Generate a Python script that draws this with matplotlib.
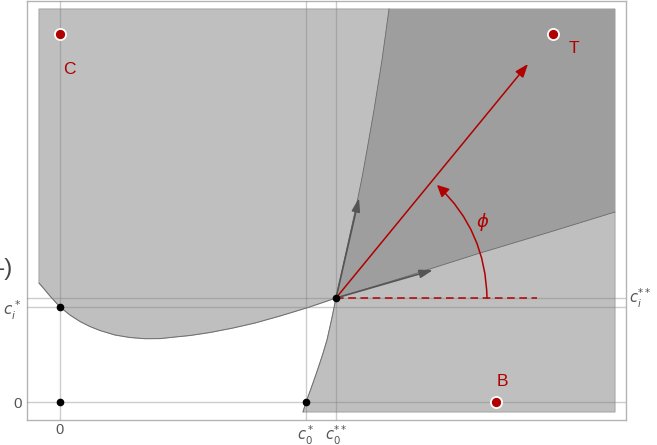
import numpy as np
import matplotlib
matplotlib.use('Agg')
import matplotlib.pyplot as plt
from matplotlib.patches import Polygon, FancyArrowPatch

plt.rcParams['font.family'] = ['Liberation Sans', 'DejaVu Sans']
plt.rcParams['mathtext.fontset'] = 'dejavusans'

# key values (schematic units)
c0_star, c0_ss = 2.46, 2.76
ci_star, ci_ss = 0.95, 1.04

# shaded box
box_x = [-0.21, 5.55]
box_y = [-0.10, 3.93]

# curve 1 (U-shaped, through the kink point and on to the right edge)
curve1_x = [-0.21, -0.15, -0.10, -0.05, 0.00, 0.10, 0.20, 0.30, 0.40, 0.55, 0.70, 0.85, 1.00,
            1.15, 1.30, 1.50, 1.73, 1.95, 2.20, 2.48, 2.76, 3.40, 4.17, 4.90, 5.55]
curve1_y = [1.19, 1.12, 1.06, 1.005, 0.95, 0.87, 0.805, 0.755, 0.715, 0.67, 0.645, 0.633, 0.634,
            0.65, 0.665, 0.695, 0.74, 0.79, 0.86, 0.945, 1.04, 1.235, 1.48, 1.70, 1.90]

# curve 2 (steep, through (c0*,0) and the kink point)
curve2_x = [2.43, 2.46, 2.505, 2.565, 2.625, 2.67, 2.715, 2.76, 2.81, 2.865, 2.92, 2.975,
            3.025, 3.07, 3.14, 3.22, 3.29]
curve2_y = [-0.10, 0.00, 0.12, 0.29, 0.47, 0.62, 0.82, 1.04, 1.27, 1.52, 1.77, 2.02,
            2.27, 2.52, 2.92, 3.42, 3.93]

# labelled points
pts_name = ['C', 'T', 'B']
pts_x = [0.0, 4.93, 4.36]
pts_y = [3.68, 3.68, 0.0]
lab_x = [0.095, 5.135, 4.425]
lab_y = [3.32, 3.53, 0.20]

# black dots
dots_x = [0.0, 0.0, c0_star, c0_ss]
dots_y = [ci_star, 0.0, 0.0, ci_ss]

# arrows from the kink
red_tip = (4.68, 3.38)
grey_tips = [(2.99, 2.04), (3.73, 1.32)]
dash_end = 4.77

red = '#b00000'
light = '#bfbfbf'
dark = '#9e9e9e'

fig = plt.figure(figsize=(6.57, 4.45), dpi=100)
ax = fig.add_axes([27/657, 25/445, 599/657, 419/445])
ax.set_xlim(-0.33, 5.66)
ax.set_ylim(-0.18, 4.01)

c1 = np.column_stack([curve1_x, curve1_y])
c2 = np.column_stack([curve2_x, curve2_y])
k1 = curve1_x.index(c0_ss)
k2 = curve2_x.index(c0_ss)

# light grey region: box minus lower-left corner
light_poly = np.vstack([
    [[box_x[0], box_y[1]], [box_x[1], box_y[1]], [box_x[1], box_y[0]]],
    c2[:k2 + 1],
    c1[:k1 + 1][::-1],
])
ax.add_patch(Polygon(light_poly, closed=True, facecolor=light, edgecolor='#a8a8a8', lw=0.8, zorder=1))

# dark region: above curve1 and right of curve2
dark_poly = np.vstack([
    c2[k2:],
    [[box_x[1], box_y[1]]],
    c1[k1:][::-1],
])
ax.add_patch(Polygon(dark_poly, closed=True, facecolor=dark, edgecolor='none', zorder=2))

ax.plot(curve1_x, curve1_y, color='#6a6a6a', lw=0.6, zorder=3)
ax.plot(curve2_x, curve2_y, color='#6a6a6a', lw=0.6, zorder=3)

# grid lines
for xv in [0.0, c0_star, c0_ss]:
    ax.axvline(xv, color='#808080', lw=1, alpha=0.4, zorder=4)
for yv in [0.0, ci_star, ci_ss]:
    ax.axhline(yv, color='#808080', lw=1, alpha=0.4, zorder=4)

# red dashed reference
ax.plot([c0_ss, dash_end], [ci_ss, ci_ss], color=red, lw=1.1, ls=(0, (5, 3)), zorder=5)

# red direction arrow
ax.annotate('', xy=red_tip, xytext=(c0_ss, ci_ss),
            arrowprops=dict(arrowstyle='-|>,head_length=0.8,head_width=0.3', color=red, lw=1.1,
                            shrinkA=0, shrinkB=0), zorder=6)

# grey tangent arrows
for tip in grey_tips:
    ax.annotate('', xy=tip, xytext=(c0_ss, ci_ss),
                arrowprops=dict(arrowstyle='-|>,head_length=0.8,head_width=0.25', color='#555555',
                                lw=1.2, shrinkA=0, shrinkB=0), zorder=6)

# angle arc
arc = FancyArrowPatch((c0_ss + 1.51, ci_ss), (3.77, 2.17), connectionstyle='arc3,rad=0.21',
                      arrowstyle='-|>,head_length=7,head_width=3.5', color=red, lw=1.1,
                      shrinkA=0, shrinkB=0, zorder=6)
ax.add_patch(arc)
ax.text(4.23, 1.80, r'$\phi$', color=red, fontsize=13, ha='center', va='center', zorder=7)

# points
ax.plot(dots_x, dots_y, 'o', color='black', ms=4.5, zorder=8)
ax.plot(pts_x, pts_y, 'o', color=red, ms=8, mec='white', mew=1.3, zorder=8)
for n, lx, ly in zip(pts_name, lab_x, lab_y):
    ax.text(lx, ly, n, color=red, fontsize=12.5, ha='center', va='center', zorder=8)

# ticks
ax.set_xticks([0.0, c0_star, c0_ss])
ax.set_xticklabels(['0', r'$c_0^*$', r'$c_0^{**}$'])
ax.set_yticks([0.0, ci_star])
ax.set_yticklabels(['0', r'$c_i^*$'])
ax.tick_params(axis='x', length=0, labelsize=10.5, labelcolor='#555555', pad=2.5)
ax.tick_params(axis='y', length=0, labelsize=11, labelcolor='#555555', pad=4)
ax.text(5.69, ci_ss, r'$c_i^{**}$', color='#555555', fontsize=10.5, ha='left', va='center', clip_on=False)
ax.text(-0.475, 1.33, '–)', color='#444444', fontsize=17, ha='right', va='center', clip_on=False)

for s in ax.spines.values():
    s.set_color('#b4b4b4')
    s.set_linewidth(1)

fig.savefig('out.png', dpi=100)
